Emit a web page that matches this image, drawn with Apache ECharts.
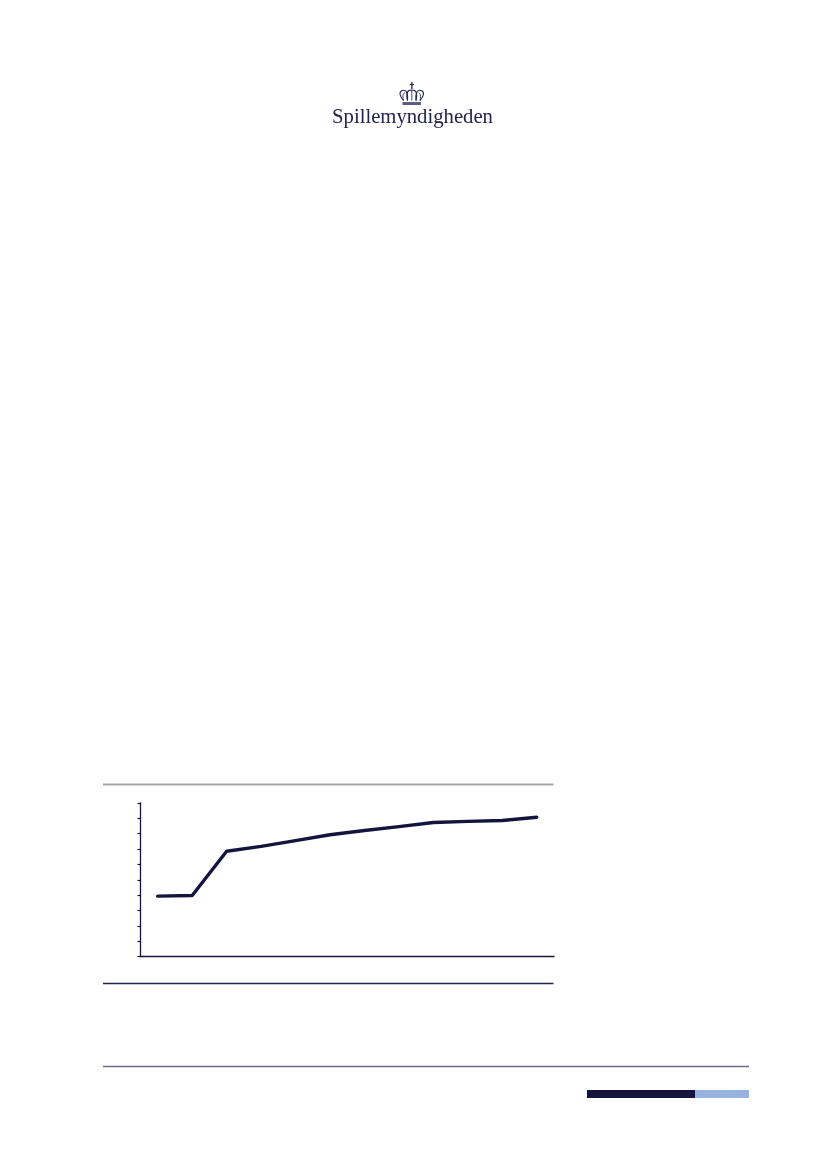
<!DOCTYPE html>
<html><head><meta charset="utf-8">
<style>html,body{margin:0;padding:0;background:#fff}#c{width:827px;height:1169px}</style>
<script src="https://cdn.jsdelivr.net/npm/echarts@6/dist/echarts.min.js"></script>
</head><body><div id="c"></div>
<script>
const categories = ['1','2','3','4','5','6','7','8','9','10','11','12'];
const seriesValues = [39.3, 39.7, 68.6, 71.7, 75.5, 79.3, 82.1, 84.6, 87.3, 88.0, 88.6, 90.7];
const logoText = 'Spillemyndigheden';
const navy = '#14143f';
const chart = echarts.init(document.getElementById('c'), null, {renderer:'canvas', width:827, height:1169});
const rule = (x1,y,x2,color,w)=>({type:'line',shape:{x1,y1:y,x2,y2:y},style:{stroke:color,lineWidth:w}});
const rect = (x,y,width,height,fill)=>({type:'rect',shape:{x,y,width,height},style:{fill}});
function arc(points,w){return {type:'polyline',shape:{points,smooth:0.5},style:{fill:null,stroke:'#23234f',lineWidth:w}};}
chart.setOption({
  animation:false,
  backgroundColor:'#fff',
  grid:{left:140.5,right:827-554,top:803,bottom:1169-956.5,containLabel:false},
  xAxis:{type:'category',data:categories,boundaryGap:true,
    axisLine:{lineStyle:{color:navy,width:1.3}},axisTick:{show:false},axisLabel:{show:false},splitLine:{show:false}},
  yAxis:{type:'value',min:0,max:100,interval:10,
    axisLine:{show:true,lineStyle:{color:navy,width:1.3}},
    axisTick:{show:true,length:3,lineStyle:{color:navy,width:1.2}},
    axisLabel:{show:false},splitLine:{show:false}},
  series:[{type:'line',data:seriesValues,symbol:'none',
    lineStyle:{color:navy,width:3.4,cap:'round',join:'round'},clip:false}],
  graphic:[
    rule(103,784.5,553.5,'#a6a6a6',2),
    rule(103,983.5,553.5,'#23234f',1.4),
    rule(103,1066.5,749,'#6d6b8a',1.4),
    rect(587,1090,108,8,navy),
    rect(695,1090,54,8,'#95b3de'),
    {type:'text',style:{text:logoText,x:412.5,y:117.5,align:'center',verticalAlign:'middle',
      font:'20.7px "Liberation Serif"',fill:'#23234f'}},
    // crown
    rect(402.5,102,18.5,3,'#5c5c82'),
    rect(411.2,82,1.3,7,'#23234f'),
    rect(409.7,84,4.3,1.1,'#23234f'),
    arc([[403.5,100.5],[400,94],[402.5,90.5],[406.5,92],[407.5,100.5]],1.1),
    arc([[407.5,100.5],[407.5,92],[411.8,90],[416,92],[416,100.5]],1.1),
    arc([[416,100.5],[417,92],[421,90.5],[423.5,94],[420,100.5]],1.1),
    arc([[403.5,100.5],[403,95],[405,92.5]],0.8),
    arc([[420,100.5],[420.5,95],[418.5,92.5]],0.8),
    arc([[411.8,100.5],[411.8,90]],0.9)
  ]
});
</script></body></html>
